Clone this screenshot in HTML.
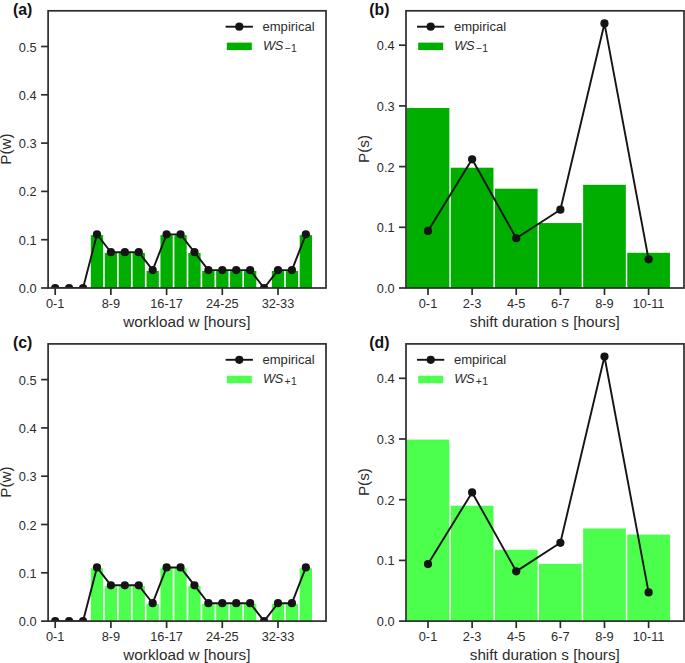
<!DOCTYPE html>
<html><head><meta charset="utf-8"><title>figure</title>
<style>
html,body{margin:0;padding:0;background:#fff;}
body{width:685px;height:663px;overflow:hidden;font-family:'Liberation Sans', sans-serif;}
svg{display:block;font-family:'Liberation Sans', sans-serif;}
</style></head>
<body>
<svg width="685" height="663" viewBox="0 0 685 663">
<rect x="0" y="0" width="685" height="663" fill="#ffffff"/>
<rect x="90.83" y="235.13" width="12.3" height="52.87" fill="#00AE00"/>
<rect x="104.75" y="253.02" width="12.3" height="34.98" fill="#00AE00"/>
<rect x="118.67" y="253.02" width="12.3" height="34.98" fill="#00AE00"/>
<rect x="132.60" y="253.02" width="12.3" height="34.98" fill="#00AE00"/>
<rect x="146.53" y="270.91" width="12.3" height="17.09" fill="#00AE00"/>
<rect x="160.45" y="235.13" width="12.3" height="52.87" fill="#00AE00"/>
<rect x="174.38" y="235.13" width="12.3" height="52.87" fill="#00AE00"/>
<rect x="188.30" y="253.02" width="12.3" height="34.98" fill="#00AE00"/>
<rect x="202.22" y="270.91" width="12.3" height="17.09" fill="#00AE00"/>
<rect x="216.15" y="270.91" width="12.3" height="17.09" fill="#00AE00"/>
<rect x="230.08" y="270.91" width="12.3" height="17.09" fill="#00AE00"/>
<rect x="244.00" y="270.91" width="12.3" height="17.09" fill="#00AE00"/>
<rect x="271.85" y="270.91" width="12.3" height="17.09" fill="#00AE00"/>
<rect x="285.78" y="270.91" width="12.3" height="17.09" fill="#00AE00"/>
<rect x="299.70" y="235.13" width="12.3" height="52.87" fill="#00AE00"/>
<clipPath id="clipa"><rect x="48.1" y="10.8" width="277.9" height="277.2"/></clipPath>
<g clip-path="url(#clipa)">
<polyline points="55.20,288.00 69.12,288.00 83.05,288.00 96.98,234.33 110.90,252.22 124.83,252.22 138.75,252.22 152.68,270.11 166.60,234.33 180.53,234.33 194.45,252.22 208.38,270.11 222.30,270.11 236.23,270.11 250.15,270.11 264.07,288.00 278.00,270.11 291.93,270.11 305.85,234.33" fill="none" stroke="#141414" stroke-width="1.9" stroke-linejoin="round"/>
<circle cx="55.20" cy="288.00" r="4.1" fill="#141414"/>
<circle cx="69.12" cy="288.00" r="4.1" fill="#141414"/>
<circle cx="83.05" cy="288.00" r="4.1" fill="#141414"/>
<circle cx="96.98" cy="234.33" r="4.1" fill="#141414"/>
<circle cx="110.90" cy="252.22" r="4.1" fill="#141414"/>
<circle cx="124.83" cy="252.22" r="4.1" fill="#141414"/>
<circle cx="138.75" cy="252.22" r="4.1" fill="#141414"/>
<circle cx="152.68" cy="270.11" r="4.1" fill="#141414"/>
<circle cx="166.60" cy="234.33" r="4.1" fill="#141414"/>
<circle cx="180.53" cy="234.33" r="4.1" fill="#141414"/>
<circle cx="194.45" cy="252.22" r="4.1" fill="#141414"/>
<circle cx="208.38" cy="270.11" r="4.1" fill="#141414"/>
<circle cx="222.30" cy="270.11" r="4.1" fill="#141414"/>
<circle cx="236.23" cy="270.11" r="4.1" fill="#141414"/>
<circle cx="250.15" cy="270.11" r="4.1" fill="#141414"/>
<circle cx="264.07" cy="288.00" r="4.1" fill="#141414"/>
<circle cx="278.00" cy="270.11" r="4.1" fill="#141414"/>
<circle cx="291.93" cy="270.11" r="4.1" fill="#141414"/>
<circle cx="305.85" cy="234.33" r="4.1" fill="#141414"/>
</g>
<rect x="48.1" y="10.8" width="277.9" height="277.2" fill="none" stroke="#2c2c2c" stroke-width="1.7"/>
<line x1="41.1" y1="288.00" x2="48.1" y2="288.00" stroke="#2c2c2c" stroke-width="1.7"/>
<text x="36.6" y="293.00" text-anchor="end" font-size="12.8" fill="#2c2c2c">0.0</text>
<line x1="41.1" y1="239.70" x2="48.1" y2="239.70" stroke="#2c2c2c" stroke-width="1.7"/>
<text x="36.6" y="244.70" text-anchor="end" font-size="12.8" fill="#2c2c2c">0.1</text>
<line x1="41.1" y1="191.40" x2="48.1" y2="191.40" stroke="#2c2c2c" stroke-width="1.7"/>
<text x="36.6" y="196.40" text-anchor="end" font-size="12.8" fill="#2c2c2c">0.2</text>
<line x1="41.1" y1="143.10" x2="48.1" y2="143.10" stroke="#2c2c2c" stroke-width="1.7"/>
<text x="36.6" y="148.10" text-anchor="end" font-size="12.8" fill="#2c2c2c">0.3</text>
<line x1="41.1" y1="94.80" x2="48.1" y2="94.80" stroke="#2c2c2c" stroke-width="1.7"/>
<text x="36.6" y="99.80" text-anchor="end" font-size="12.8" fill="#2c2c2c">0.4</text>
<line x1="41.1" y1="46.50" x2="48.1" y2="46.50" stroke="#2c2c2c" stroke-width="1.7"/>
<text x="36.6" y="51.50" text-anchor="end" font-size="12.8" fill="#2c2c2c">0.5</text>
<line x1="55.20" y1="288.0" x2="55.20" y2="295.0" stroke="#2c2c2c" stroke-width="1.7"/>
<text x="55.20" y="308.20" text-anchor="middle" font-size="12.8" fill="#2c2c2c">0-1</text>
<line x1="110.90" y1="288.0" x2="110.90" y2="295.0" stroke="#2c2c2c" stroke-width="1.7"/>
<text x="110.90" y="308.20" text-anchor="middle" font-size="12.8" fill="#2c2c2c">8-9</text>
<line x1="166.60" y1="288.0" x2="166.60" y2="295.0" stroke="#2c2c2c" stroke-width="1.7"/>
<text x="166.60" y="308.20" text-anchor="middle" font-size="12.8" fill="#2c2c2c">16-17</text>
<line x1="222.30" y1="288.0" x2="222.30" y2="295.0" stroke="#2c2c2c" stroke-width="1.7"/>
<text x="222.30" y="308.20" text-anchor="middle" font-size="12.8" fill="#2c2c2c">24-25</text>
<line x1="278.00" y1="288.0" x2="278.00" y2="295.0" stroke="#2c2c2c" stroke-width="1.7"/>
<text x="278.00" y="308.20" text-anchor="middle" font-size="12.8" fill="#2c2c2c">32-33</text>
<text x="186.9" y="326.60" text-anchor="middle" font-size="15.25" fill="#2c2c2c">workload w [hours]</text>
<text transform="translate(11.2,149.00) rotate(-90)" text-anchor="middle" font-size="15.25" fill="#2c2c2c">P(w)</text>
<text x="12.9" y="14.60" font-size="15.8" font-weight="bold" fill="#111">(a)</text>
<line x1="225.6" y1="26.7" x2="252.9" y2="26.7" stroke="#141414" stroke-width="1.9"/>
<circle cx="239.29999999999998" cy="26.7" r="4.1" fill="#141414"/>
<text x="262.5" y="31.2" font-size="13.05" fill="#2c2c2c">empirical</text>
<rect x="226.79999999999998" y="42.6" width="25" height="7.5" fill="#00AE00"/>
<text x="262.9" y="50.0" font-size="12.8" font-style="italic" fill="#2c2c2c" letter-spacing="-0.3">WS</text>
<text x="284.4" y="52.2" font-size="10.4" fill="#2c2c2c" letter-spacing="0.5">−1</text>
<rect x="406.65" y="107.96" width="42.7" height="180.04" fill="#00AE00"/>
<rect x="450.77" y="167.69" width="42.7" height="120.31" fill="#00AE00"/>
<rect x="494.89" y="188.69" width="42.7" height="99.31" fill="#00AE00"/>
<rect x="539.01" y="223.05" width="42.7" height="64.95" fill="#00AE00"/>
<rect x="583.13" y="184.81" width="42.7" height="103.19" fill="#00AE00"/>
<rect x="627.25" y="252.79" width="42.7" height="35.21" fill="#00AE00"/>
<polyline points="428.00,230.94 472.12,159.32 516.24,238.23 560.36,209.70 604.48,23.41 648.60,259.35" fill="none" stroke="#141414" stroke-width="1.9" stroke-linejoin="round"/>
<circle cx="428.00" cy="230.94" r="4.1" fill="#141414"/>
<circle cx="472.12" cy="159.32" r="4.1" fill="#141414"/>
<circle cx="516.24" cy="238.23" r="4.1" fill="#141414"/>
<circle cx="560.36" cy="209.70" r="4.1" fill="#141414"/>
<circle cx="604.48" cy="23.41" r="4.1" fill="#141414"/>
<circle cx="648.60" cy="259.35" r="4.1" fill="#141414"/>
<rect x="406.0" y="10.8" width="278.0" height="277.2" fill="none" stroke="#2c2c2c" stroke-width="1.7"/>
<line x1="399.0" y1="288.00" x2="406.0" y2="288.00" stroke="#2c2c2c" stroke-width="1.7"/>
<text x="394.6" y="293.00" text-anchor="end" font-size="12.8" fill="#2c2c2c">0.0</text>
<line x1="399.0" y1="227.30" x2="406.0" y2="227.30" stroke="#2c2c2c" stroke-width="1.7"/>
<text x="394.6" y="232.30" text-anchor="end" font-size="12.8" fill="#2c2c2c">0.1</text>
<line x1="399.0" y1="166.60" x2="406.0" y2="166.60" stroke="#2c2c2c" stroke-width="1.7"/>
<text x="394.6" y="171.60" text-anchor="end" font-size="12.8" fill="#2c2c2c">0.2</text>
<line x1="399.0" y1="105.90" x2="406.0" y2="105.90" stroke="#2c2c2c" stroke-width="1.7"/>
<text x="394.6" y="110.90" text-anchor="end" font-size="12.8" fill="#2c2c2c">0.3</text>
<line x1="399.0" y1="45.20" x2="406.0" y2="45.20" stroke="#2c2c2c" stroke-width="1.7"/>
<text x="394.6" y="50.20" text-anchor="end" font-size="12.8" fill="#2c2c2c">0.4</text>
<line x1="428.00" y1="288.0" x2="428.00" y2="295.0" stroke="#2c2c2c" stroke-width="1.7"/>
<text x="428.00" y="308.20" text-anchor="middle" font-size="12.8" fill="#2c2c2c">0-1</text>
<line x1="472.12" y1="288.0" x2="472.12" y2="295.0" stroke="#2c2c2c" stroke-width="1.7"/>
<text x="472.12" y="308.20" text-anchor="middle" font-size="12.8" fill="#2c2c2c">2-3</text>
<line x1="516.24" y1="288.0" x2="516.24" y2="295.0" stroke="#2c2c2c" stroke-width="1.7"/>
<text x="516.24" y="308.20" text-anchor="middle" font-size="12.8" fill="#2c2c2c">4-5</text>
<line x1="560.36" y1="288.0" x2="560.36" y2="295.0" stroke="#2c2c2c" stroke-width="1.7"/>
<text x="560.36" y="308.20" text-anchor="middle" font-size="12.8" fill="#2c2c2c">6-7</text>
<line x1="604.48" y1="288.0" x2="604.48" y2="295.0" stroke="#2c2c2c" stroke-width="1.7"/>
<text x="604.48" y="308.20" text-anchor="middle" font-size="12.8" fill="#2c2c2c">8-9</text>
<line x1="648.60" y1="288.0" x2="648.60" y2="295.0" stroke="#2c2c2c" stroke-width="1.7"/>
<text x="648.60" y="308.20" text-anchor="middle" font-size="12.8" fill="#2c2c2c">10-11</text>
<text x="544.8" y="326.60" text-anchor="middle" font-size="15.25" fill="#2c2c2c">shift duration s [hours]</text>
<text transform="translate(369.1,149.00) rotate(-90)" text-anchor="middle" font-size="15.25" fill="#2c2c2c">P(s)</text>
<text x="369.3" y="14.60" font-size="15.8" font-weight="bold" fill="#111">(b)</text>
<line x1="417.0" y1="26.7" x2="444.3" y2="26.7" stroke="#141414" stroke-width="1.9"/>
<circle cx="430.7" cy="26.7" r="4.1" fill="#141414"/>
<text x="453.9" y="31.2" font-size="13.05" fill="#2c2c2c">empirical</text>
<rect x="418.2" y="42.6" width="25" height="7.5" fill="#00AE00"/>
<text x="454.3" y="50.0" font-size="12.8" font-style="italic" fill="#2c2c2c" letter-spacing="-0.3">WS</text>
<text x="475.8" y="52.2" font-size="10.4" fill="#2c2c2c" letter-spacing="0.5">−1</text>
<rect x="90.83" y="568.23" width="12.3" height="52.87" fill="#4DFF4D"/>
<rect x="104.75" y="586.12" width="12.3" height="34.98" fill="#4DFF4D"/>
<rect x="118.67" y="586.12" width="12.3" height="34.98" fill="#4DFF4D"/>
<rect x="132.60" y="586.12" width="12.3" height="34.98" fill="#4DFF4D"/>
<rect x="146.53" y="604.01" width="12.3" height="17.09" fill="#4DFF4D"/>
<rect x="160.45" y="568.23" width="12.3" height="52.87" fill="#4DFF4D"/>
<rect x="174.38" y="568.23" width="12.3" height="52.87" fill="#4DFF4D"/>
<rect x="188.30" y="586.12" width="12.3" height="34.98" fill="#4DFF4D"/>
<rect x="202.22" y="604.01" width="12.3" height="17.09" fill="#4DFF4D"/>
<rect x="216.15" y="604.01" width="12.3" height="17.09" fill="#4DFF4D"/>
<rect x="230.08" y="604.01" width="12.3" height="17.09" fill="#4DFF4D"/>
<rect x="244.00" y="604.01" width="12.3" height="17.09" fill="#4DFF4D"/>
<rect x="271.85" y="604.01" width="12.3" height="17.09" fill="#4DFF4D"/>
<rect x="285.78" y="604.01" width="12.3" height="17.09" fill="#4DFF4D"/>
<rect x="299.70" y="568.23" width="12.3" height="52.87" fill="#4DFF4D"/>
<clipPath id="clipc"><rect x="48.1" y="343.90000000000003" width="277.9" height="277.2"/></clipPath>
<g clip-path="url(#clipc)">
<polyline points="55.20,621.10 69.12,621.10 83.05,621.10 96.98,567.43 110.90,585.32 124.83,585.32 138.75,585.32 152.68,603.21 166.60,567.43 180.53,567.43 194.45,585.32 208.38,603.21 222.30,603.21 236.23,603.21 250.15,603.21 264.07,621.10 278.00,603.21 291.93,603.21 305.85,567.43" fill="none" stroke="#141414" stroke-width="1.9" stroke-linejoin="round"/>
<circle cx="55.20" cy="621.10" r="4.1" fill="#141414"/>
<circle cx="69.12" cy="621.10" r="4.1" fill="#141414"/>
<circle cx="83.05" cy="621.10" r="4.1" fill="#141414"/>
<circle cx="96.98" cy="567.43" r="4.1" fill="#141414"/>
<circle cx="110.90" cy="585.32" r="4.1" fill="#141414"/>
<circle cx="124.83" cy="585.32" r="4.1" fill="#141414"/>
<circle cx="138.75" cy="585.32" r="4.1" fill="#141414"/>
<circle cx="152.68" cy="603.21" r="4.1" fill="#141414"/>
<circle cx="166.60" cy="567.43" r="4.1" fill="#141414"/>
<circle cx="180.53" cy="567.43" r="4.1" fill="#141414"/>
<circle cx="194.45" cy="585.32" r="4.1" fill="#141414"/>
<circle cx="208.38" cy="603.21" r="4.1" fill="#141414"/>
<circle cx="222.30" cy="603.21" r="4.1" fill="#141414"/>
<circle cx="236.23" cy="603.21" r="4.1" fill="#141414"/>
<circle cx="250.15" cy="603.21" r="4.1" fill="#141414"/>
<circle cx="264.07" cy="621.10" r="4.1" fill="#141414"/>
<circle cx="278.00" cy="603.21" r="4.1" fill="#141414"/>
<circle cx="291.93" cy="603.21" r="4.1" fill="#141414"/>
<circle cx="305.85" cy="567.43" r="4.1" fill="#141414"/>
</g>
<rect x="48.1" y="343.90000000000003" width="277.9" height="277.2" fill="none" stroke="#2c2c2c" stroke-width="1.7"/>
<line x1="41.1" y1="621.10" x2="48.1" y2="621.10" stroke="#2c2c2c" stroke-width="1.7"/>
<text x="36.6" y="626.10" text-anchor="end" font-size="12.8" fill="#2c2c2c">0.0</text>
<line x1="41.1" y1="572.80" x2="48.1" y2="572.80" stroke="#2c2c2c" stroke-width="1.7"/>
<text x="36.6" y="577.80" text-anchor="end" font-size="12.8" fill="#2c2c2c">0.1</text>
<line x1="41.1" y1="524.50" x2="48.1" y2="524.50" stroke="#2c2c2c" stroke-width="1.7"/>
<text x="36.6" y="529.50" text-anchor="end" font-size="12.8" fill="#2c2c2c">0.2</text>
<line x1="41.1" y1="476.20" x2="48.1" y2="476.20" stroke="#2c2c2c" stroke-width="1.7"/>
<text x="36.6" y="481.20" text-anchor="end" font-size="12.8" fill="#2c2c2c">0.3</text>
<line x1="41.1" y1="427.90" x2="48.1" y2="427.90" stroke="#2c2c2c" stroke-width="1.7"/>
<text x="36.6" y="432.90" text-anchor="end" font-size="12.8" fill="#2c2c2c">0.4</text>
<line x1="41.1" y1="379.60" x2="48.1" y2="379.60" stroke="#2c2c2c" stroke-width="1.7"/>
<text x="36.6" y="384.60" text-anchor="end" font-size="12.8" fill="#2c2c2c">0.5</text>
<line x1="55.20" y1="621.1" x2="55.20" y2="628.1" stroke="#2c2c2c" stroke-width="1.7"/>
<text x="55.20" y="641.30" text-anchor="middle" font-size="12.8" fill="#2c2c2c">0-1</text>
<line x1="110.90" y1="621.1" x2="110.90" y2="628.1" stroke="#2c2c2c" stroke-width="1.7"/>
<text x="110.90" y="641.30" text-anchor="middle" font-size="12.8" fill="#2c2c2c">8-9</text>
<line x1="166.60" y1="621.1" x2="166.60" y2="628.1" stroke="#2c2c2c" stroke-width="1.7"/>
<text x="166.60" y="641.30" text-anchor="middle" font-size="12.8" fill="#2c2c2c">16-17</text>
<line x1="222.30" y1="621.1" x2="222.30" y2="628.1" stroke="#2c2c2c" stroke-width="1.7"/>
<text x="222.30" y="641.30" text-anchor="middle" font-size="12.8" fill="#2c2c2c">24-25</text>
<line x1="278.00" y1="621.1" x2="278.00" y2="628.1" stroke="#2c2c2c" stroke-width="1.7"/>
<text x="278.00" y="641.30" text-anchor="middle" font-size="12.8" fill="#2c2c2c">32-33</text>
<text x="186.9" y="659.70" text-anchor="middle" font-size="15.25" fill="#2c2c2c">workload w [hours]</text>
<text transform="translate(11.2,482.10) rotate(-90)" text-anchor="middle" font-size="15.25" fill="#2c2c2c">P(w)</text>
<text x="12.9" y="347.70" font-size="15.8" font-weight="bold" fill="#111">(c)</text>
<line x1="225.6" y1="359.8" x2="252.9" y2="359.8" stroke="#141414" stroke-width="1.9"/>
<circle cx="239.29999999999998" cy="359.8" r="4.1" fill="#141414"/>
<text x="262.5" y="364.3" font-size="13.05" fill="#2c2c2c">empirical</text>
<rect x="226.79999999999998" y="375.70000000000005" width="25" height="7.5" fill="#4DFF4D"/>
<text x="262.9" y="383.1" font-size="12.8" font-style="italic" fill="#2c2c2c" letter-spacing="-0.3">WS</text>
<text x="284.4" y="385.3" font-size="10.4" fill="#2c2c2c" letter-spacing="0.5">+1</text>
<rect x="406.65" y="439.61" width="42.7" height="181.49" fill="#4DFF4D"/>
<rect x="450.77" y="505.71" width="42.7" height="115.39" fill="#4DFF4D"/>
<rect x="494.89" y="549.78" width="42.7" height="71.32" fill="#4DFF4D"/>
<rect x="539.01" y="563.80" width="42.7" height="57.30" fill="#4DFF4D"/>
<rect x="583.13" y="528.47" width="42.7" height="92.63" fill="#4DFF4D"/>
<rect x="627.25" y="534.54" width="42.7" height="86.56" fill="#4DFF4D"/>
<polyline points="428.00,564.04 472.12,492.42 516.24,571.33 560.36,542.80 604.48,356.51 648.60,592.45" fill="none" stroke="#141414" stroke-width="1.9" stroke-linejoin="round"/>
<circle cx="428.00" cy="564.04" r="4.1" fill="#141414"/>
<circle cx="472.12" cy="492.42" r="4.1" fill="#141414"/>
<circle cx="516.24" cy="571.33" r="4.1" fill="#141414"/>
<circle cx="560.36" cy="542.80" r="4.1" fill="#141414"/>
<circle cx="604.48" cy="356.51" r="4.1" fill="#141414"/>
<circle cx="648.60" cy="592.45" r="4.1" fill="#141414"/>
<rect x="406.0" y="343.90000000000003" width="278.0" height="277.2" fill="none" stroke="#2c2c2c" stroke-width="1.7"/>
<line x1="399.0" y1="621.10" x2="406.0" y2="621.10" stroke="#2c2c2c" stroke-width="1.7"/>
<text x="394.6" y="626.10" text-anchor="end" font-size="12.8" fill="#2c2c2c">0.0</text>
<line x1="399.0" y1="560.40" x2="406.0" y2="560.40" stroke="#2c2c2c" stroke-width="1.7"/>
<text x="394.6" y="565.40" text-anchor="end" font-size="12.8" fill="#2c2c2c">0.1</text>
<line x1="399.0" y1="499.70" x2="406.0" y2="499.70" stroke="#2c2c2c" stroke-width="1.7"/>
<text x="394.6" y="504.70" text-anchor="end" font-size="12.8" fill="#2c2c2c">0.2</text>
<line x1="399.0" y1="439.00" x2="406.0" y2="439.00" stroke="#2c2c2c" stroke-width="1.7"/>
<text x="394.6" y="444.00" text-anchor="end" font-size="12.8" fill="#2c2c2c">0.3</text>
<line x1="399.0" y1="378.30" x2="406.0" y2="378.30" stroke="#2c2c2c" stroke-width="1.7"/>
<text x="394.6" y="383.30" text-anchor="end" font-size="12.8" fill="#2c2c2c">0.4</text>
<line x1="428.00" y1="621.1" x2="428.00" y2="628.1" stroke="#2c2c2c" stroke-width="1.7"/>
<text x="428.00" y="641.30" text-anchor="middle" font-size="12.8" fill="#2c2c2c">0-1</text>
<line x1="472.12" y1="621.1" x2="472.12" y2="628.1" stroke="#2c2c2c" stroke-width="1.7"/>
<text x="472.12" y="641.30" text-anchor="middle" font-size="12.8" fill="#2c2c2c">2-3</text>
<line x1="516.24" y1="621.1" x2="516.24" y2="628.1" stroke="#2c2c2c" stroke-width="1.7"/>
<text x="516.24" y="641.30" text-anchor="middle" font-size="12.8" fill="#2c2c2c">4-5</text>
<line x1="560.36" y1="621.1" x2="560.36" y2="628.1" stroke="#2c2c2c" stroke-width="1.7"/>
<text x="560.36" y="641.30" text-anchor="middle" font-size="12.8" fill="#2c2c2c">6-7</text>
<line x1="604.48" y1="621.1" x2="604.48" y2="628.1" stroke="#2c2c2c" stroke-width="1.7"/>
<text x="604.48" y="641.30" text-anchor="middle" font-size="12.8" fill="#2c2c2c">8-9</text>
<line x1="648.60" y1="621.1" x2="648.60" y2="628.1" stroke="#2c2c2c" stroke-width="1.7"/>
<text x="648.60" y="641.30" text-anchor="middle" font-size="12.8" fill="#2c2c2c">10-11</text>
<text x="544.8" y="659.70" text-anchor="middle" font-size="15.25" fill="#2c2c2c">shift duration s [hours]</text>
<text transform="translate(369.1,482.10) rotate(-90)" text-anchor="middle" font-size="15.25" fill="#2c2c2c">P(s)</text>
<text x="369.3" y="347.70" font-size="15.8" font-weight="bold" fill="#111">(d)</text>
<line x1="417.0" y1="359.8" x2="444.3" y2="359.8" stroke="#141414" stroke-width="1.9"/>
<circle cx="430.7" cy="359.8" r="4.1" fill="#141414"/>
<text x="453.9" y="364.3" font-size="13.05" fill="#2c2c2c">empirical</text>
<rect x="418.2" y="375.70000000000005" width="25" height="7.5" fill="#4DFF4D"/>
<text x="454.3" y="383.1" font-size="12.8" font-style="italic" fill="#2c2c2c" letter-spacing="-0.3">WS</text>
<text x="475.8" y="385.3" font-size="10.4" fill="#2c2c2c" letter-spacing="0.5">+1</text>
</svg>
</body></html>
